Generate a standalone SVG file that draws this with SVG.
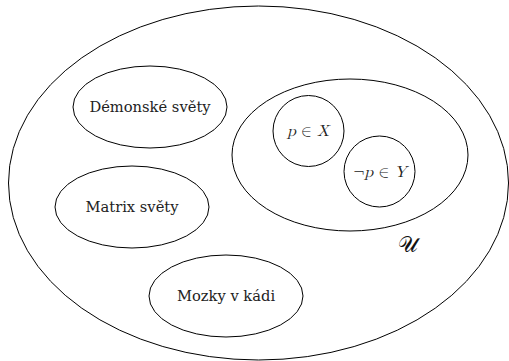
<svg xmlns="http://www.w3.org/2000/svg" width="509" height="361" viewBox="0 0 509 361">
<style>
.sh{fill:none;stroke:#000;stroke-width:1}
.lb{font-family:"DejaVu Serif","Liberation Serif",serif;font-size:14.7px;fill:#222;text-anchor:middle}
.m{font-family:"Latin Modern Math","DejaVu Serif","Liberation Serif",serif;font-size:16px;fill:#222;text-anchor:middle}
.it{font-style:italic}
</style>
<rect width="509" height="361" fill="#fff"/>
<g id="universe">
<ellipse class="sh" cx="258.5" cy="183" rx="250" ry="177"/>
<text x="408" y="252" font-family="DejaVu Serif,serif" font-size="22" fill="#111" text-anchor="middle">𝒰</text>
</g>
<g id="demonske">
<ellipse class="sh" cx="150" cy="107" rx="77" ry="41"/>
<text class="lb" x="150" y="112">Démonské světy</text>
</g>
<g id="matrix">
<ellipse class="sh" cx="132" cy="207" rx="77" ry="41"/>
<text class="lb" x="132" y="212">Matrix světy</text>
</g>
<g id="mozky">
<ellipse class="sh" cx="226" cy="296" rx="77" ry="41"/>
<text class="lb" x="226" y="301">Mozky v kádi</text>
</g>
<g id="inner">
<ellipse class="sh" cx="350" cy="155" rx="118" ry="76"/>
</g>
<g id="pX">
<circle class="sh" cx="308.5" cy="131" r="35.5"/>
<text class="m" x="308" y="136"><tspan class="it">p</tspan> ∈ <tspan class="it">X</tspan></text>
</g>
<g id="npY">
<circle class="sh" cx="379.5" cy="171.5" r="35.5"/>
<text class="m" x="380" y="177">¬<tspan class="it">p</tspan> ∈ <tspan class="it">Y</tspan></text>
</g>
<g id="connectors"/>
</svg>
